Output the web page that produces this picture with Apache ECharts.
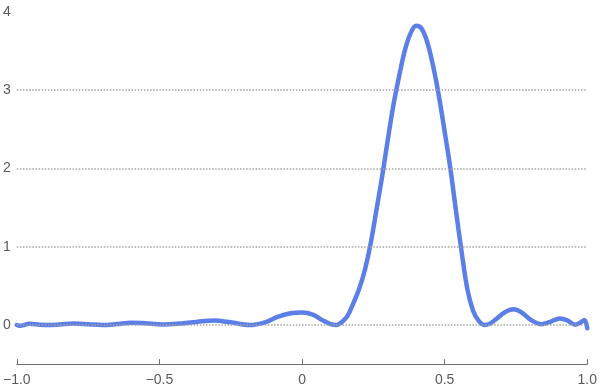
<!DOCTYPE html>
<html>
<head>
<meta charset="utf-8">
<script src="https://cdn.jsdelivr.net/npm/echarts@6/dist/echarts.min.js"></script>
<style>html,body{margin:0;padding:0;background:#fff}#c{width:600px;height:391px}</style>
</head>
<body>
<div id="c"></div>
<script>
// Curve samples (x, y)
const xValues = [-1.00,-0.99,-0.955,-0.92,-0.885,-0.85,-0.80,-0.75,-0.70,-0.65,-0.60,-0.55,-0.49,-0.44,-0.37,-0.308,-0.25,-0.185,-0.13,-0.086,-0.04,0.0,0.04,0.07,0.10,0.12,0.14,0.16,0.18,0.20,0.22,0.24,0.26,0.28,0.30,0.32,0.34,0.36,0.38,0.40,0.42,0.44,0.46,0.48,0.50,0.52,0.54,0.56,0.58,0.60,0.62,0.64,0.66,0.68,0.71,0.741,0.77,0.80,0.84,0.87,0.904,0.93,0.957,0.975,0.99,1.00];
const yValues = [0.00,-0.01,0.015,0.005,0.0,0.008,0.02,0.01,0.0,0.012,0.03,0.022,0.008,0.015,0.04,0.058,0.035,0.0,0.035,0.105,0.15,0.16,0.13,0.065,0.012,0.0,0.04,0.12,0.28,0.46,0.70,1.03,1.45,1.88,2.35,2.80,3.17,3.50,3.72,3.82,3.78,3.60,3.30,2.92,2.47,2.00,1.45,0.92,0.45,0.18,0.05,0.0,0.02,0.075,0.16,0.20,0.16,0.07,0.01,0.04,0.085,0.06,0.005,0.03,0.065,-0.04];
const xTicks = [-1, -0.5, 0, 0.5, 1];
const yTicks = [0, 1, 2, 3, 4];
const gridValues = [0, 1, 2, 3];

const fmtX = v => {
  if (Math.abs(v) < 1e-9) return '0';
  const s = Math.abs(v).toFixed(1);
  return (v < 0 ? '\u2212' : '') + s;
};

const chart = echarts.init(document.getElementById('c'), null, {renderer: 'canvas'});
const textStyle = {color: '#5a5a5a', fontSize: 14, fontFamily: 'Liberation Sans, Arial, sans-serif'};
chart.setOption({
  animation: false,
  grid: {left: 16.5, right: 10.5, top: 11.7, bottom: 26.8, containLabel: false},
  xAxis: {
    type: 'value', min: -1, max: 1, interval: 0.5,
    axisLine: {show: true, onZero: false, lineStyle: {color: '#6e6e6e', width: 1}},
    axisTick: {show: true, inside: true, length: 5, lineStyle: {color: '#6e6e6e'}},
    axisLabel: Object.assign({margin: 9, formatter: fmtX}, textStyle),
    splitLine: {show: false}
  },
  yAxis: {
    type: 'value', min: -0.5, max: 4,
    axisLine: {show: false},
    axisTick: {show: false},
    axisLabel: Object.assign({margin: 6, customValues: yTicks, formatter: v => String(v)}, textStyle),
    splitLine: {show: false}
  },
  series: [
    {
      type: 'line', data: [], z: 1, silent: true,
      markLine: {
        silent: true, symbol: ['none', 'none'], label: {show: false},
        lineStyle: {color: '#a4a4a4', type: [1.5, 1.6], width: 1.5},
        emphasis: {disabled: true},
        data: gridValues.map(v => ({yAxis: v}))
      }
    },
    {
      type: 'line', z: 3,
      data: xValues.map((x, i) => [x, yValues[i]]),
      smooth: 0.35, showSymbol: false, symbol: 'none',
      lineStyle: {color: '#5b7fe6', width: 4.5, cap: 'round', join: 'round'}
    }
  ]
});
</script>
</body>
</html>
